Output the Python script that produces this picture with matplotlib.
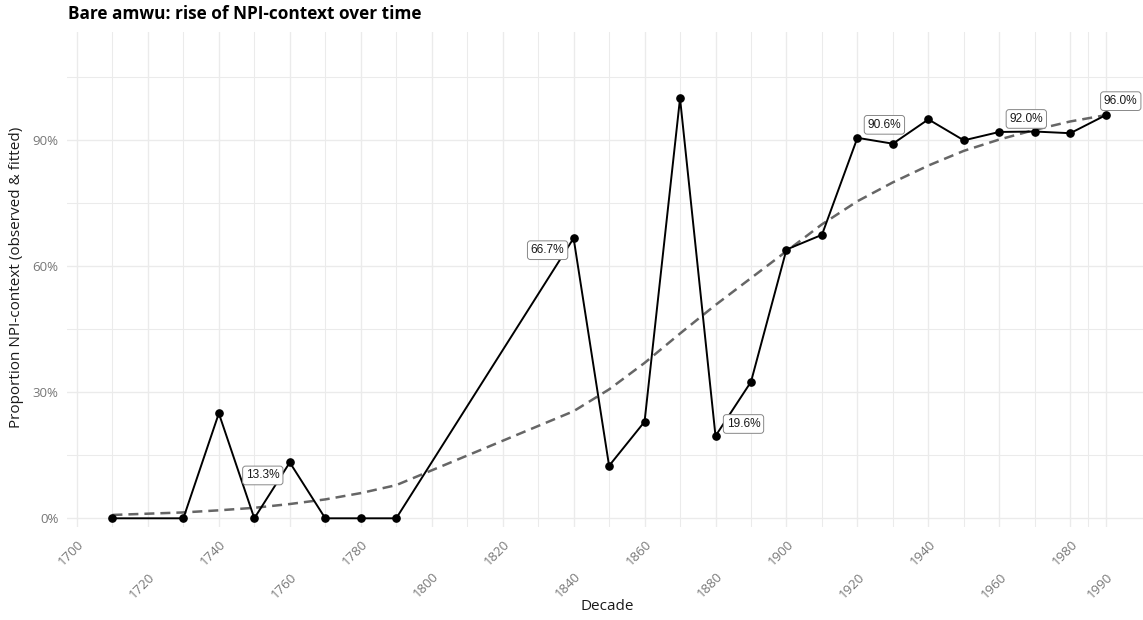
import matplotlib
matplotlib.use("Agg")
import matplotlib.pyplot as plt
from matplotlib.ticker import FixedLocator, FuncFormatter
from matplotlib.transforms import ScaledTranslation

# Observed share of NPI contexts per decade
decades = [1710, 1730, 1740, 1750, 1760, 1770, 1780, 1790, 1840, 1850, 1860,
           1870, 1880, 1890, 1900, 1910, 1920, 1930, 1940, 1950, 1960, 1970,
           1980, 1990]
observed = [0.0, 0.0, 0.25, 0.0, 0.133, 0.0, 0.0, 0.0, 0.667, 0.125, 0.23,
            1.0, 0.196, 0.325, 0.64, 0.675, 0.906, 0.892, 0.95, 0.90, 0.92,
            0.921, 0.917, 0.96]
# Logistic-model fitted share at the same decades
fitted = [0.008, 0.014, 0.019, 0.025, 0.034, 0.045, 0.060, 0.079, 0.255,
          0.307, 0.370, 0.440, 0.508, 0.572, 0.636, 0.700, 0.755, 0.800,
          0.840, 0.875, 0.902, 0.925, 0.945, 0.960]

# Decades whose observed value is annotated
labelled = [1760, 1840, 1880, 1920, 1960, 1990]
label_offsets = {1760: (-27, -13), 1840: (-26, -12), 1880: (28, 12),
                 1920: (27, 13), 1960: (27, 13), 1990: (15, 14)}

x_breaks = [1700, 1720, 1740, 1760, 1780, 1800, 1820, 1840, 1860, 1880,
            1900, 1920, 1940, 1960, 1980, 1990]
y_breaks = [0.0, 0.3, 0.6, 0.9]

W, H = 1143, 620
fig = plt.figure(figsize=(W / 100, H / 100), dpi=100)
ax = fig.add_axes([67 / W, 1 - 527 / H, 1 - 67 / W, (527 - 32) / H])

ax.set_xlim(1697.2, 2000.5)
ax.set_ylim(-0.0207, 1.158)

grid_col = "#ebebeb"
ax.xaxis.set_major_locator(FixedLocator(x_breaks))
ax.xaxis.set_minor_locator(FixedLocator([d for d in range(1710, 1990, 20)] + [1985]))
ax.yaxis.set_major_locator(FixedLocator(y_breaks))
ax.yaxis.set_minor_locator(FixedLocator([0.15, 0.45, 0.75, 1.05]))
ax.grid(which="major", color=grid_col, linewidth=1.0)
ax.grid(which="minor", color=grid_col, linewidth=0.75)
ax.set_axisbelow(True)
for s in ax.spines.values():
    s.set_visible(False)
ax.tick_params(which="both", length=0)
ax.tick_params(axis="y", pad=6, labelsize=9.5, labelcolor="#777777")
ax.tick_params(axis="x", pad=2, labelsize=9.5, labelcolor="#777777")
ax.yaxis.set_major_formatter(FuncFormatter(lambda v, p: f"{v * 100:.0f}%"))

for lab in ax.get_yticklabels():
    lab.set_family("Open Sans")

# Rotated decade labels, alternating between two rows
ax.set_xticklabels([str(b) for b in x_breaks])
for i, lab in enumerate(ax.get_xticklabels()):
    lab.set_rotation(45)
    lab.set_ha("right")
    lab.set_va("center")
    lab.set_rotation_mode("anchor")
    lab.set_family("Open Sans")
    dy = 12 if i % 2 == 0 else 45
    lab.set_transform(lab.get_transform() +
                      ScaledTranslation(5 / 100, -dy / 100, fig.dpi_scale_trans))

# Fitted curve
ax.plot(decades, fitted, color="#666666", linewidth=1.8, linestyle=(0, (4, 2.4)),
        zorder=2)
# Observed series
ax.plot(decades, observed, color="black", linewidth=1.4, marker="o",
        markersize=5.2, zorder=3)

for d in labelled:
    v = observed[decades.index(d)]
    ox, oy = label_offsets[d]
    ax.annotate(f"{v * 100:.1f}%", xy=(d, v), xytext=(ox, oy),
                textcoords="offset pixels", ha="center", va="center",
                fontsize=8.6, family="Liberation Sans", color="#1a1a1a",
                bbox=dict(boxstyle="round,pad=0.28,rounding_size=0.25",
                          fc="white", ec="#888888", lw=0.7), zorder=4)

fig.text(68 / W, 1 - 14 / H, "Bare amwu: rise of NPI-context over time",
         ha="left", va="center", fontsize=12.4, fontweight="bold",
         family="Open Sans", color="black")
fig.text(17 / W, 1 - 277 / H, "Proportion NPI-context (observed & fitted)",
         ha="center", va="center", rotation=90, fontsize=11,
         family="Open Sans", color="#1a1a1a")
fig.text(607 / W, 1 - 607 / H, "Decade", ha="center", va="center",
         fontsize=11, family="Open Sans", color="#1a1a1a")

fig.savefig("out.png", dpi=100, facecolor="white")
